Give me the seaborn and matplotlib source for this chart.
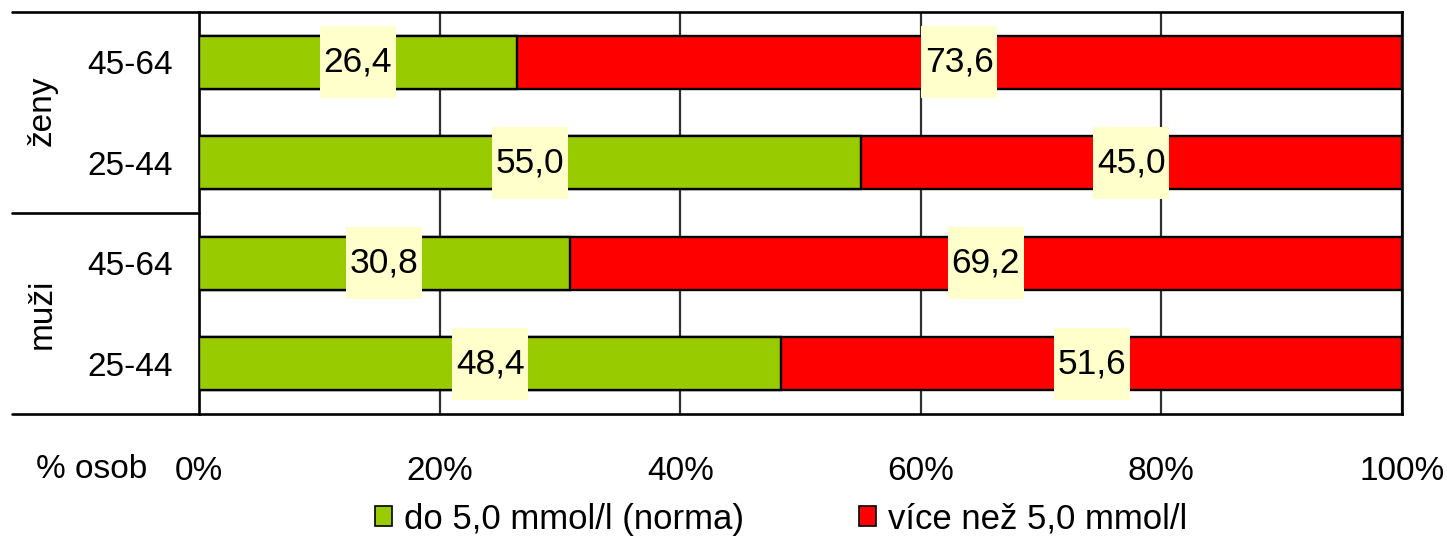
import pandas as pd
import seaborn as sns
import matplotlib.pyplot as plt
from matplotlib.patches import Rectangle, Patch

# Data
skupiny = ['ženy', 'ženy', 'muži', 'muži']
vek = ['45-64', '25-44', '45-64', '25-44']
norma = [26.4, 55.0, 30.8, 48.4]
vice = [73.6, 45.0, 69.2, 51.6]
x_ticks = [0, 20, 40, 60, 80, 100]

df = pd.DataFrame({'skupina': skupiny, 'vek': vek, 'norma': norma, 'vice': vice})
df['radek'] = df['skupina'] + ' ' + df['vek']
df['celkem'] = df['norma'] + df['vice']

zelena = '#99CC00'
cervena = '#FF0000'

sns.set_style('white')
plt.rcParams['font.family'] = ['Liberation Sans', 'DejaVu Sans']
plt.rcParams['text.color'] = 'black'
plt.rcParams['xtick.color'] = 'black'
plt.rcParams['ytick.color'] = 'black'

fig = plt.figure(figsize=(14.47, 5.37), dpi=100)
ax = fig.add_axes([199 / 1447, 1 - 414 / 537, 1203 / 1447, 402 / 537])

sns.barplot(data=df, x='celkem', y='radek', color=cervena, saturation=1,
            width=0.53, edgecolor='black', linewidth=1.7, ax=ax, zorder=2)
sns.barplot(data=df, x='norma', y='radek', color=zelena, saturation=1,
            width=0.53, edgecolor='black', linewidth=1.7, ax=ax, zorder=3)

ax.set_xlim(0, 100)
ax.set_ylim(3.5, -0.5)
ax.set_xticks(x_ticks)
ax.set_xticklabels([f'{t}%' for t in x_ticks], fontsize=24)
ax.set_yticks(range(len(vek)))
ax.set_yticklabels(vek, fontsize=24)
ax.tick_params(axis='x', length=0, pad=30)
ax.tick_params(axis='y', length=0, pad=19)
ax.set_xlabel('')
ax.set_ylabel('')

ax.xaxis.grid(True, color='#303030', linewidth=1.6)
ax.set_axisbelow(True)
for s in ax.spines.values():
    s.set_color('black')
    s.set_linewidth(1.9)

# popisky hodnot
def fmt(v):
    return f'{v:.1f}'.replace('.', ',')

for i in range(len(norma)):
    for cx, v in [(norma[i] / 2, norma[i]), (norma[i] + vice[i] / 2, vice[i])]:
        ax.add_patch(Rectangle((cx - 3.15, i - 0.36), 6.3, 0.72,
                               facecolor='#FFFFCC', edgecolor='none', zorder=4))
        ax.text(cx, i, fmt(v), ha='center', va='center', fontsize=25.5, zorder=5)

# skupiny vlevo
ax.text(-0.1305, 0.755, 'ženy', rotation=90, ha='center', va='center',
        fontsize=24, transform=ax.transAxes)
ax.text(-0.1305, 0.25, 'muži', rotation=90, ha='center', va='center',
        fontsize=24, transform=ax.transAxes)
for yy in [-0.5, 1.5, 3.5]:
    ax.plot([-0.1555, 0], [yy, yy], color='black', linewidth=1.9,
            transform=ax.get_yaxis_transform(), clip_on=False)

fig.text(92 / 1447, 1 - 470 / 537, '% osob', ha='center', va='center', fontsize=24)

handles = [Patch(facecolor=zelena, edgecolor='black', linewidth=1.2),
           Patch(facecolor=cervena, edgecolor='black', linewidth=1.2)]
fig.legend(handles, ['do 5,0 mmol/l (norma)', 'více než 5,0 mmol/l'],
           loc='center', bbox_to_anchor=(781 / 1447, 1 - 519 / 537), ncol=2,
           frameon=False, fontsize=25, handlelength=0.5, handleheight=0.5,
           handletextpad=0.35, columnspacing=3.3, borderaxespad=0, borderpad=0)

plt.savefig('out.png', dpi=100)
